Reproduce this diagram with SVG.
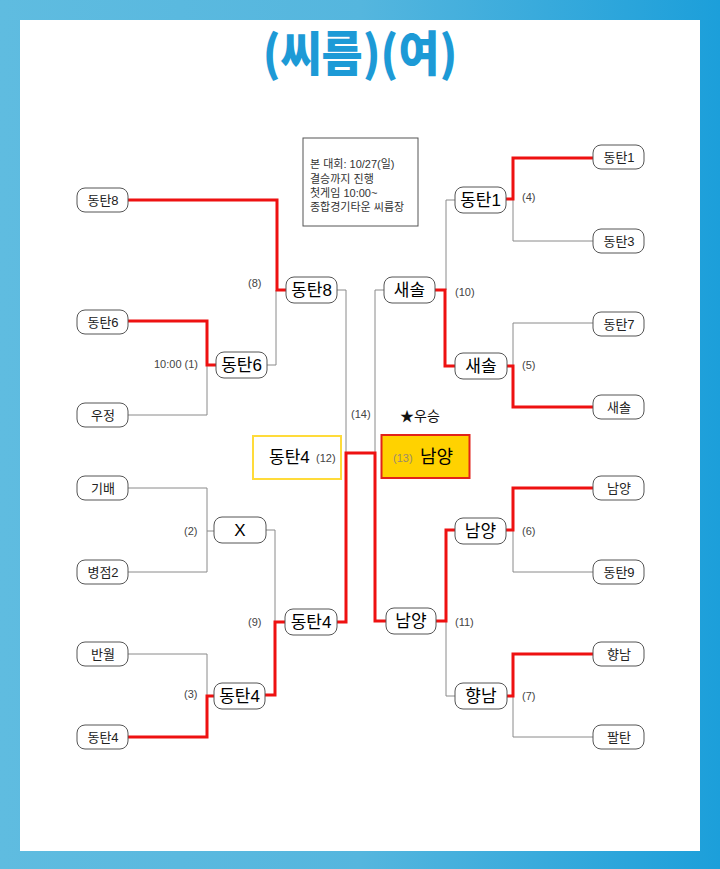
<svg xmlns="http://www.w3.org/2000/svg" width="720" height="869" viewBox="0 0 720 869">
<defs>
<linearGradient id="fr" x1="0" y1="0" x2="1" y2="0">
<stop offset="0" stop-color="#5fbce0"/>
<stop offset="0.5" stop-color="#55b6de"/>
<stop offset="1" stop-color="#1c9fda"/>
</linearGradient>
</defs>
<style>
.leaf rect,.rn rect{fill:#fff;stroke:#555;stroke-width:1}
.leaf text{font-family:"Liberation Sans","Noto Sans CJK KR",sans-serif;font-size:13px;fill:#222;text-anchor:middle}
.rn text{font-family:"Liberation Sans","Noto Sans CJK KR",sans-serif;font-size:17px;fill:#000;text-anchor:middle}
.lbl{font-family:"Liberation Sans","Noto Sans CJK KR",sans-serif;font-size:11px;fill:#444}
.g{fill:none;stroke:#8a8a8a;stroke-width:1}
.r{fill:none;stroke:#ee1111;stroke-width:3}
.info{font-family:"Liberation Sans","Noto Sans CJK KR",sans-serif;font-size:11px;fill:#333}
</style>
<rect x="0" y="0" width="720" height="869" fill="url(#fr)"/>
<rect x="20" y="20" width="680" height="831" fill="#fff"/>
<text x="360" y="71" text-anchor="middle" font-family="Noto Sans CJK KR,sans-serif" font-weight="900" font-size="48" fill="#1d9ad6" transform="translate(360 0) scale(0.93 1) translate(-360 0)">(씨름)(여)</text>

<g id="info">
<rect x="303" y="138" width="115" height="88" fill="#fff" stroke="#555" stroke-width="1"/>
<text class="info" x="310" y="168">본 대회: 10/27(일)</text>
<text class="info" x="310" y="183">결승까지 진행</text>
<text class="info" x="310" y="197">첫게임 10:00~</text>
<text class="info" x="310" y="211">종합경기타운 씨름장</text>
</g>

<g id="connectors">
<path class="g" d="M128,415 H207 V365"/>
<path class="g" d="M267,365 H276 V290"/>
<path class="g" d="M127,488 H207 V572 H127 M207,531 H214"/>
<path class="g" d="M266,530 H275 V621"/>
<path class="g" d="M127,654 H207 V695"/>
<path class="g" d="M337,290 H346 V453"/>
<path class="g" d="M384,290 H375 V453"/>
<path class="g" d="M593,241 H513 V199"/>
<path class="g" d="M455,200 H446 V290"/>
<path class="g" d="M593,323 H513 V366"/>
<path class="g" d="M593,572 H513 V530"/>
<path class="g" d="M446,621 V696 H455"/>
<path class="g" d="M593,737 H513 V696"/>
<path class="r" d="M128,200 H277 V290 H286"/>
<path class="r" d="M128,321 H207 V365 H216"/>
<path class="r" d="M127,737 H207 V696 H214"/>
<path class="r" d="M265,695 H275 V622 H285"/>
<path class="r" d="M337,622 H346 V453 H375 V621 H386"/>
<path class="r" d="M593,158 H513 V199 H506"/>
<path class="r" d="M435,290 H445 V366 H455"/>
<path class="r" d="M593,407 H513 V366 H507"/>
<path class="r" d="M593,488 H513 V530 H506"/>
<path class="r" d="M455,530 H446 V621 H436"/>
<path class="r" d="M593,654 H513 V696 H507"/>
</g>

<g id="L1" class="leaf"><rect x="77" y="188" width="51" height="24" rx="8"/><text x="103" y="205">동탄8</text></g>
<g id="L2" class="leaf"><rect x="77" y="310" width="51" height="24" rx="8"/><text x="103" y="327">동탄6</text></g>
<g id="L3" class="leaf"><rect x="77" y="403" width="51" height="24" rx="8"/><text x="103" y="420">우정</text></g>
<g id="L4" class="leaf"><rect x="77" y="476" width="51" height="24" rx="8"/><text x="103" y="493">기배</text></g>
<g id="L5" class="leaf"><rect x="77" y="560" width="51" height="24" rx="8"/><text x="103" y="577">병점2</text></g>
<g id="L6" class="leaf"><rect x="77" y="642" width="51" height="24" rx="8"/><text x="103" y="659">반월</text></g>
<g id="L7" class="leaf"><rect x="77" y="725" width="51" height="24" rx="8"/><text x="103" y="742">동탄4</text></g>

<g id="R1" class="leaf"><rect x="593" y="145" width="51" height="24" rx="8"/><text x="619" y="162">동탄1</text></g>
<g id="R2" class="leaf"><rect x="593" y="229" width="51" height="24" rx="8"/><text x="619" y="246">동탄3</text></g>
<g id="R3" class="leaf"><rect x="593" y="312" width="51" height="24" rx="8"/><text x="619" y="329">동탄7</text></g>
<g id="R4" class="leaf"><rect x="593" y="395" width="51" height="24" rx="8"/><text x="619" y="412">새솔</text></g>
<g id="R5" class="leaf"><rect x="593" y="476" width="51" height="24" rx="8"/><text x="619" y="493">남양</text></g>
<g id="R6" class="leaf"><rect x="593" y="560" width="51" height="24" rx="8"/><text x="619" y="577">동탄9</text></g>
<g id="R7" class="leaf"><rect x="593" y="642" width="51" height="24" rx="8"/><text x="619" y="659">향남</text></g>
<g id="R8" class="leaf"><rect x="593" y="725" width="51" height="24" rx="8"/><text x="619" y="742">팔탄</text></g>

<g id="m1" class="rn"><rect x="216" y="352" width="51" height="26" rx="8"/><text x="241.5" y="371">동탄6</text></g>
<g id="m2" class="rn"><rect x="214" y="517" width="52" height="26" rx="8"/><text x="240" y="536">X</text></g>
<g id="m3" class="rn"><rect x="214" y="683" width="51" height="26" rx="8"/><text x="239.5" y="702">동탄4</text></g>
<g id="m8" class="rn"><rect x="286" y="277" width="51" height="26" rx="8"/><text x="311.5" y="296">동탄8</text></g>
<g id="m9" class="rn"><rect x="285" y="609" width="52" height="26" rx="8"/><text x="311" y="628">동탄4</text></g>
<g id="m4" class="rn"><rect x="455" y="187" width="51" height="26" rx="8"/><text x="480.5" y="206">동탄1</text></g>
<g id="m5" class="rn"><rect x="455" y="353" width="52" height="26" rx="8"/><text x="481" y="372">새솔</text></g>
<g id="m6" class="rn"><rect x="455" y="518" width="51" height="26" rx="8"/><text x="480.5" y="537">남양</text></g>
<g id="m7" class="rn"><rect x="455" y="683" width="52" height="26" rx="8"/><text x="481" y="702">향남</text></g>
<g id="m10" class="rn"><rect x="384" y="277" width="51" height="26" rx="8"/><text x="409.5" y="296">새솔</text></g>
<g id="m11" class="rn"><rect x="386" y="608" width="50" height="26" rx="8"/><text x="411" y="627">남양</text></g>

<g id="labels">
<text class="lbl" x="154" y="368">10:00 (1)</text>
<text class="lbl" x="184" y="535">(2)</text>
<text class="lbl" x="184" y="698">(3)</text>
<text class="lbl" x="248" y="287">(8)</text>
<text class="lbl" x="248" y="626">(9)</text>
<text class="lbl" x="522" y="201">(4)</text>
<text class="lbl" x="522" y="369">(5)</text>
<text class="lbl" x="522" y="535">(6)</text>
<text class="lbl" x="522" y="700">(7)</text>
<text class="lbl" x="455" y="296">(10)</text>
<text class="lbl" x="455" y="626">(11)</text>
<text class="lbl" x="351" y="418">(14)</text>
<text x="400" y="421" font-family="Liberation Sans,Noto Sans CJK KR,sans-serif" font-size="14" fill="#111">★우승</text>
</g>

<g id="semi12">
<rect x="253" y="436" width="88" height="43" fill="#fff" stroke="#ffdb3a" stroke-width="2"/>
<text x="269" y="463" font-family="Liberation Sans,Noto Sans CJK KR,sans-serif" font-size="17" fill="#000">동탄4</text>
<text x="316" y="462" font-family="Liberation Sans,sans-serif" font-size="11" fill="#444">(12)</text>
</g>
<g id="champ13">
<rect x="381.5" y="435" width="88" height="43" fill="#ffd200" stroke="#e2231a" stroke-width="2"/>
<text x="393" y="462" font-family="Liberation Sans,sans-serif" font-size="11" fill="#9a8a6e">(13)</text>
<text x="420" y="463" font-family="Liberation Sans,Noto Sans CJK KR,sans-serif" font-size="18" fill="#000">남양</text>
</g>
</svg>
